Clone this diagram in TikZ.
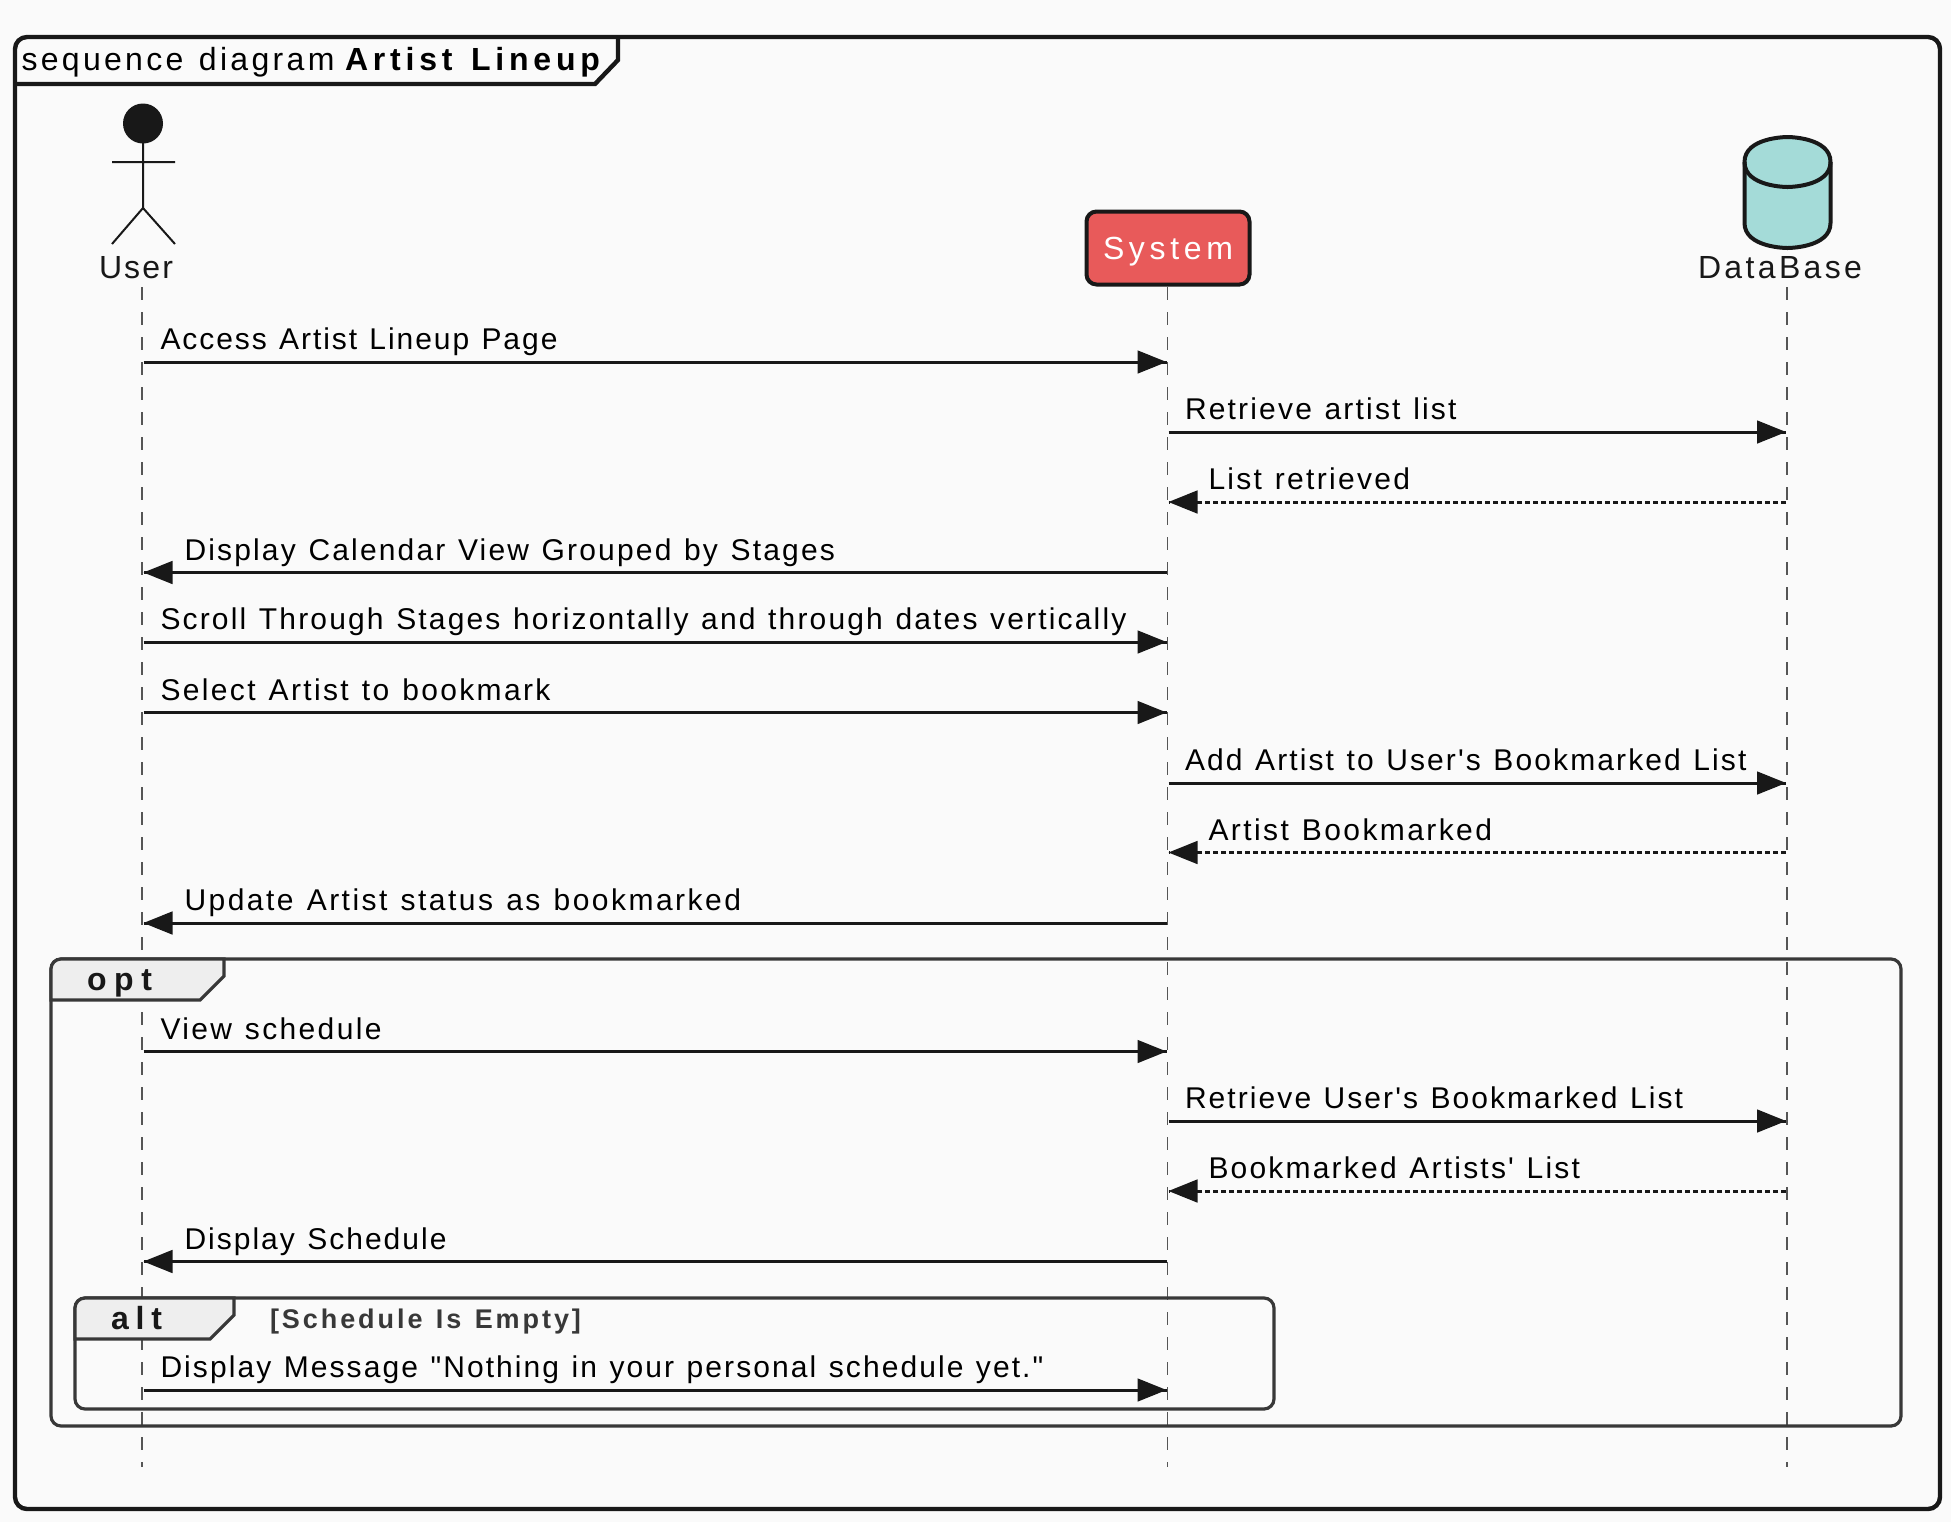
\documentclass[tikz,border=0pt]{standalone}
\usepackage{fontspec}
\newfontfamily\lib{Liberation Sans}
\definecolor{bgc}{HTML}{FAFAFA}
\definecolor{ink}{HTML}{181818}
\definecolor{grp}{HTML}{383838}
\definecolor{hdr}{HTML}{EEEEEE}
\definecolor{sysc}{HTML}{E85A5A}
\definecolor{dbc}{HTML}{A4DBD8}
\definecolor{lifec}{HTML}{555555}
\ExplSyntaxOn
\NewExpandableDocumentCommand\strlenx{m}{\str_count:n{#1}}
\ExplSyntaxOff
% \fitt{width in px}{font size in pt}{text}
\newlength\lsdim
\newcommand\fitt[3]{{\fontsize{#2}{#2}\selectfont\setbox0=\hbox{#3}%
  \pgfmathsetmacro\lsd{((#1*0.5)-\wd0)/(\strlenx{#3}-1)}%
  \pgfmathsetmacro\lsv{\lsd/#2*100}%
  \addfontfeature{LetterSpace=\lsv}\lsdim=\lsd pt\relax
  \spaceskip=\dimexpr\fontdimen2\font+\lsdim\relax #3}}
\tikzset{
  x=0.5pt,y=-0.5pt,
  txt/.style={inner sep=0pt,outer sep=0pt,anchor=base west,text=#1,font=\lib},
  txt/.default=black,
  msg/.style={draw=ink,line width=1.5pt},
  ret/.style={draw=ink,line width=1.5pt,dash pattern=on 2.4pt off 1.6pt},
  life/.style={draw=lifec,line width=0.6pt,dash pattern=on 6.25pt off 6.25pt},
  grpbox/.style={draw=grp,line width=1.6pt,rounded corners=5pt},
  grphead/.style={draw=grp,fill=hdr,line width=1.6pt},
  headtip/.style={fill=ink,draw=none}
}
\newcommand\tipR[1]{\fill[headtip] (#1) -- ++(-29,-11.7) -- ++(0,23.4) -- cycle;}
\newcommand\tipL[1]{\fill[headtip] (#1) -- ++(29,-11.7) -- ++(0,23.4) -- cycle;}
\begin{document}
\begin{tikzpicture}
\useasboundingbox (0,0) rectangle (1951,1522);
\fill[bgc] (0,0) rectangle (1951,1522);
% lifelines
\coordinate (ut) at (142,287); \coordinate (ub) at (142,1467);
\coordinate (st) at (1167.5,287); \coordinate (sb) at (1167.5,1467);
\coordinate (dt) at (1787,287); \coordinate (db) at (1787,1467);
\draw[life] (ut) -- (ub);
\draw[life] (st) -- (sb);
\draw[life] (dt) -- (db);
% outer frame
\draw[draw=ink,line width=2.2pt,rounded corners=6pt] (15,37) rectangle (1940,1509);
\draw[draw=ink,line width=2.2pt] (15,84) -- (595,84) -- (618,60) -- (618,37);
\node[txt] (ttl1) at (21.5,70.5) {\fitt{313}{16}{sequence diagram}};
\node[txt] (ttl2) at (345,70.5) {\bfseries\fitt{255}{16}{Artist Lineup}};
% actor
\fill[ink] (143,123.5) circle[radius=20];
\draw[ink,line width=1pt] (143,143) -- (143,208) (112,162) -- (175,162) (112,244) -- (143,208) -- (175,244);
\node[txt=ink] (user) at (99,278.5) {\fitt{74}{16}{User}};
% system
\node[draw=ink,fill=sysc,line width=2pt,rounded corners=5pt,minimum width=81.5pt,minimum height=36.5pt,inner sep=0pt] (sys) at (1168,248) {};
\node[txt=white] (systxt) at (1103,259.5) {\fitt{130}{16}{System}};
% database
\path[draw=ink,fill=dbc,line width=2pt] (1744.5,162) .. controls (1744.5,137) and (1787.5,137) .. (1787.5,137) .. controls (1787.5,137) and (1830.5,137) .. (1830.5,162) -- (1830.5,223) .. controls (1830.5,248) and (1787.5,248) .. (1787.5,248) .. controls (1787.5,248) and (1744.5,248) .. (1744.5,223) -- cycle;
\draw[ink,line width=2pt] (1744.5,162) .. controls (1744.5,187) and (1787.5,187) .. (1787.5,187) .. controls (1787.5,187) and (1830.5,187) .. (1830.5,162);
\node[txt=ink] (dbt) at (1698,278.5) {\fitt{164}{16}{DataBase}};
% message end points
\foreach \n/\y in {1/362,2/432,3/502,4/572.5,5/642,6/712.5,7/783,8/852.5,9/923,10/1051.5,11/1121,12/1191,13/1261.5,14/1390}{
  \coordinate (u\n) at (143.5,\y);
  \coordinate (sl\n) at (1166.5,\y);
  \coordinate (sr\n) at (1168.5,\y);
  \coordinate (d\n) at (1786,\y);
}
% opt / alt
\draw[grpbox] (51,959) rectangle (1901,1426);
\draw[grphead] (51,1000) -- (200,1000) -- (224,976) -- (224,959) [rounded corners=5pt] -- (51,959) [sharp corners] -- cycle;
\node[txt=ink] (opt) at (87,990.5) {\bfseries\fitt{65}{16}{opt}};
\draw[grpbox] (75,1298) rectangle (1274,1409);
\draw[grphead] (75,1339) -- (210,1339) -- (234,1315) -- (234,1298) [rounded corners=5pt] -- (75,1298) [sharp corners] -- cycle;
\node[txt=ink] (alt) at (111,1329.5) {\bfseries\fitt{51}{16}{alt}};
\node[txt=grp] (cond) at (270,1328) {\bfseries\fitt{311}{13.5}{[Schedule Is Empty]}};
% messages
\draw[msg] (u1) -- (sl1); \tipR{sl1}
\draw[msg] (sr2) -- (d2); \tipR{d2}
\draw[ret] (d3) -- (sr3); \tipL{sr3}
\draw[msg] (sl4) -- (u4); \tipL{u4}
\draw[msg] (u5) -- (sl5); \tipR{sl5}
\draw[msg] (u6) -- (sl6); \tipR{sl6}
\draw[msg] (sr7) -- (d7); \tipR{d7}
\draw[ret] (d8) -- (sr8); \tipL{sr8}
\draw[msg] (sl9) -- (u9); \tipL{u9}
\draw[msg] (u10) -- (sl10); \tipR{sl10}
\draw[msg] (sr11) -- (d11); \tipR{d11}
\draw[ret] (d12) -- (sr12); \tipL{sr12}
\draw[msg] (sl13) -- (u13); \tipL{u13}
\draw[msg] (u14) -- (sl14); \tipR{sl14}
% labels
\node[txt] (m1) at (160.5,349.7) {\fitt{397}{15}{Access Artist Lineup Page}};
\node[txt] (m2) at (1185,419.7) {\fitt{271.5}{15}{Retrieve artist list}};
\node[txt] (m3) at (1208.5,489.7) {\fitt{201.5}{15}{List retrieved}};
\node[txt] (m4) at (184.5,560.2) {\fitt{650.5}{15}{Display Calendar View Grouped by Stages}};
\node[txt] (m5) at (160.5,629.7) {\fitt{966}{15}{Scroll Through Stages horizontally and through dates vertically}};
\node[txt] (m6) at (160.5,700.2) {\fitt{390}{15}{Select Artist to bookmark}};
\node[txt] (m7) at (1185,770.7) {\fitt{561.5}{15}{Add Artist to User's Bookmarked List}};
\node[txt] (m8) at (1208.5,840.2) {\fitt{283.5}{15}{Artist Bookmarked}};
\node[txt] (m9) at (184.5,910.7) {\fitt{556.5}{15}{Update Artist status as bookmarked}};
\node[txt] (m10) at (160.5,1039.2) {\fitt{221}{15}{View schedule}};
\node[txt] (m11) at (1185,1108.7) {\fitt{498}{15}{Retrieve User's Bookmarked List}};
\node[txt] (m12) at (1208.5,1178.7) {\fitt{371.5}{15}{Bookmarked Artists' List}};
\node[txt] (m13) at (184.5,1249.2) {\fitt{262}{15}{Display Schedule}};
\node[txt] (m14) at (160.5,1377.7) {\fitt{883}{15}{Display Message "Nothing in your personal schedule yet."}};
\end{tikzpicture}
\end{document}
